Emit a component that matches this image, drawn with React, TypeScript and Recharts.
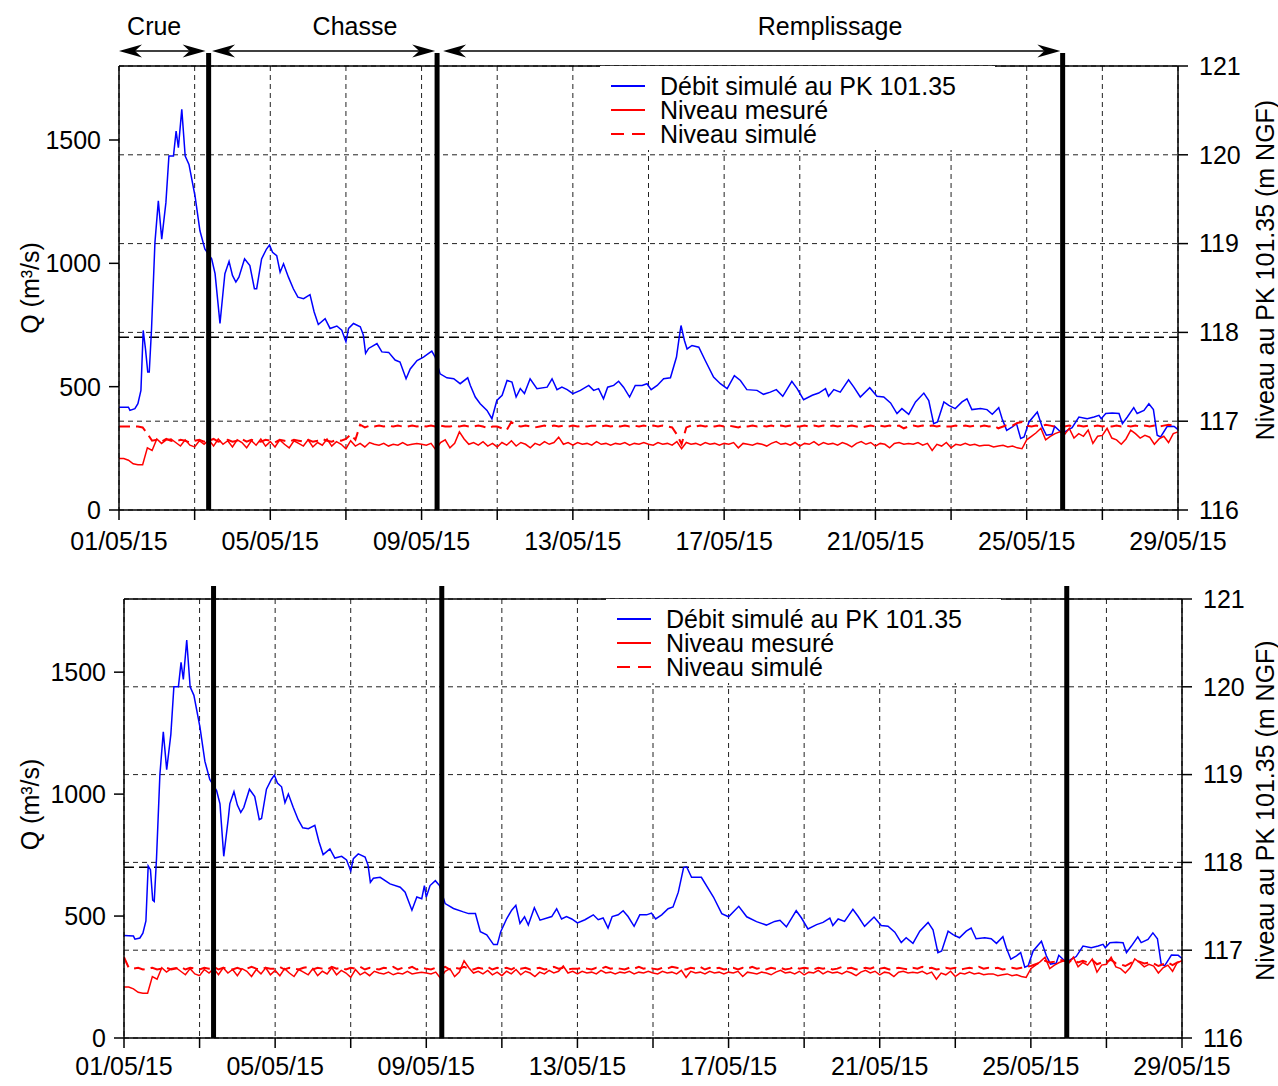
import React from "react";
import {
  CartesianGrid,
  Legend,
  Line,
  LineChart,
  ReferenceLine,
  XAxis,
  YAxis,
} from "recharts";

const FONT = '"Liberation Sans", Arial, Helvetica, sans-serif';

// x axis is in days since 01/05/15 00:00
const tickDays = [0, 2, 4, 6, 8, 10, 12, 14, 16, 18, 20, 22, 24, 26, 28];
const dateLabels = ["01/05/15", "05/05/15", "09/05/15", "13/05/15", "17/05/15", "21/05/15", "25/05/15", "29/05/15"];
const qTicks = [0, 500, 1000, 1500];
const levelTicks = [116, 117, 118, 119, 120, 121];

// phase boundaries (thick vertical lines)
const phaseLimits = [2.37, 8.41, 24.95];
const phases = [
  { name: "Crue", from: 0, to: 2.29, labelAt: 0.93 },
  { name: "Chasse", from: 2.46, to: 8.36, labelAt: 6.24 },
  { name: "Remplissage", from: 8.57, to: 24.89, labelAt: 18.8 },
];
const qThreshold = 700;
const arrowLevel = 121.17;

// simulated discharge [day, m3/s]
const qTop: [number, number][] = [
  [0, 417], [0.25, 417], [0.29, 404], [0.42, 411], [0.5, 431], [0.58, 485], [0.64, 728], [0.7, 653],
  [0.76, 559], [0.8, 559], [0.86, 734], [0.95, 1084], [1.04, 1253], [1.13, 1098], [1.24, 1246], [1.32, 1435],
  [1.44, 1435], [1.51, 1536], [1.57, 1469], [1.66, 1624], [1.75, 1435], [1.85, 1401], [2.01, 1273], [2.14, 1132],
  [2.27, 1058], [2.45, 1018], [2.54, 958], [2.67, 756], [2.76, 897], [2.8, 958], [2.91, 1008], [3.0, 951],
  [3.09, 924], [3.17, 944], [3.32, 1018], [3.46, 991], [3.58, 897], [3.64, 897], [3.77, 1018], [3.9, 1058],
  [3.98, 1074], [4.06, 1045], [4.17, 1031], [4.26, 964], [4.35, 998], [4.48, 944], [4.61, 897], [4.73, 863],
  [4.88, 857], [5.05, 873], [5.16, 803], [5.27, 752], [5.45, 776], [5.58, 736], [5.76, 746], [5.89, 729],
  [6.0, 682], [6.07, 736], [6.2, 756], [6.38, 743], [6.46, 709], [6.52, 635], [6.6, 655], [6.82, 675],
  [6.95, 641], [7.13, 639], [7.3, 608], [7.43, 600], [7.59, 532], [7.7, 572], [7.88, 606], [8.05, 620],
  [8.27, 644], [8.36, 620], [8.49, 552], [8.67, 536], [8.85, 532], [9.02, 512], [9.22, 536], [9.29, 505],
  [9.42, 458], [9.55, 431], [9.73, 404], [9.86, 370], [9.99, 444], [10.13, 465], [10.26, 525], [10.39, 519],
  [10.5, 458], [10.61, 492], [10.72, 472], [10.87, 532], [11.05, 492], [11.32, 498], [11.45, 532], [11.58, 488],
  [11.71, 498], [11.85, 488], [12.0, 472], [12.2, 485], [12.42, 505], [12.55, 485], [12.68, 492], [12.81, 451],
  [12.92, 498], [13.08, 505], [13.21, 522], [13.34, 498], [13.5, 458], [13.65, 505], [13.83, 505], [13.96, 512],
  [14.07, 488], [14.23, 505], [14.4, 532], [14.58, 536], [14.74, 620], [14.8, 687], [14.86, 748], [14.95, 687],
  [15.02, 653], [15.15, 667], [15.33, 660], [15.5, 606], [15.72, 539], [15.9, 512], [16.08, 492], [16.27, 545],
  [16.43, 525], [16.6, 488], [16.87, 485], [17.04, 469], [17.22, 478], [17.38, 488], [17.55, 461], [17.79, 522],
  [17.93, 492], [18.1, 447], [18.33, 465], [18.5, 474], [18.68, 492], [18.76, 461], [18.9, 488], [19.07, 478],
  [19.29, 528], [19.43, 498], [19.6, 458], [19.85, 496], [20.04, 461], [20.22, 458], [20.4, 434], [20.57, 391],
  [20.7, 411], [20.88, 388], [21.06, 438], [21.28, 474], [21.41, 444], [21.54, 350], [21.64, 357], [21.81, 438],
  [21.94, 424], [22.11, 411], [22.29, 438], [22.42, 451], [22.55, 407], [22.78, 411], [22.95, 407], [23.09, 388],
  [23.26, 415], [23.35, 370], [23.47, 323], [23.62, 337], [23.73, 350], [23.84, 290], [23.93, 296], [24.06, 357],
  [24.28, 397], [24.41, 337], [24.52, 303], [24.67, 307], [24.74, 339], [24.85, 323], [24.94, 310], [25.07, 323],
  [25.2, 334], [25.38, 377], [25.6, 370], [25.78, 377], [25.91, 384], [25.97, 370], [26.09, 391], [26.26, 393],
  [26.44, 391], [26.53, 350], [26.66, 377], [26.83, 415], [26.92, 391], [27.1, 404], [27.23, 431], [27.35, 407],
  [27.45, 303], [27.54, 296], [27.72, 340], [27.9, 339], [28.0, 326],
];

const qBottom: [number, number][] = [
  [0, 420], [0.25, 418], [0.29, 405], [0.42, 410], [0.5, 430], [0.58, 480], [0.64, 705], [0.7, 690],
  [0.76, 565], [0.8, 560], [0.86, 735], [0.95, 1080], [1.04, 1255], [1.13, 1100], [1.24, 1245], [1.32, 1440],
  [1.44, 1440], [1.51, 1540], [1.57, 1470], [1.66, 1632], [1.75, 1440], [1.85, 1405], [2.01, 1275], [2.14, 1135],
  [2.27, 1060], [2.45, 1015], [2.54, 960], [2.64, 745], [2.76, 900], [2.8, 960], [2.91, 1010], [3.0, 955],
  [3.09, 925], [3.17, 945], [3.32, 1020], [3.46, 990], [3.58, 895], [3.64, 900], [3.77, 1020], [3.9, 1060],
  [3.98, 1078], [4.06, 1045], [4.17, 1030], [4.26, 965], [4.35, 1000], [4.48, 945], [4.61, 895], [4.73, 862],
  [4.88, 858], [5.05, 872], [5.16, 805], [5.27, 752], [5.45, 775], [5.58, 738], [5.76, 745], [5.89, 730],
  [6.0, 685], [6.07, 735], [6.2, 755], [6.38, 742], [6.46, 708], [6.52, 638], [6.6, 655], [6.78, 659],
  [7.04, 632], [7.31, 618], [7.44, 598], [7.62, 524], [7.75, 578], [7.88, 571], [7.95, 625], [8.0, 578],
  [8.1, 625], [8.24, 645], [8.35, 625], [8.5, 551], [8.72, 531], [8.98, 517], [9.12, 510], [9.3, 510],
  [9.43, 436], [9.6, 423], [9.78, 383], [9.88, 383], [9.97, 436], [10.13, 490], [10.26, 524], [10.37, 544],
  [10.48, 470], [10.6, 497], [10.7, 463], [10.86, 534], [11.01, 483], [11.32, 498], [11.45, 530], [11.58, 488],
  [11.71, 498], [11.85, 488], [12.0, 472], [12.2, 485], [12.42, 505], [12.55, 485], [12.68, 492], [12.81, 451],
  [12.92, 498], [13.08, 505], [13.21, 522], [13.34, 498], [13.5, 458], [13.65, 505], [13.83, 505], [13.96, 512],
  [14.07, 488], [14.23, 505], [14.4, 530], [14.53, 537], [14.67, 598], [14.81, 699], [14.89, 702], [15.02, 659],
  [15.28, 659], [15.6, 578], [15.82, 510], [16.0, 497], [16.27, 540], [16.48, 497], [16.74, 477], [17.0, 463],
  [17.22, 478], [17.36, 483], [17.53, 456], [17.79, 522], [17.93, 492], [18.1, 447], [18.33, 465], [18.5, 474],
  [18.68, 492], [18.76, 461], [18.9, 488], [19.07, 478], [19.29, 528], [19.43, 498], [19.6, 458], [19.85, 496],
  [20.04, 461], [20.22, 458], [20.4, 434], [20.57, 391], [20.7, 411], [20.88, 388], [21.06, 438], [21.28, 474],
  [21.41, 444], [21.54, 350], [21.64, 357], [21.81, 438], [21.94, 424], [22.11, 411], [22.29, 438], [22.42, 451],
  [22.55, 407], [22.78, 411], [22.95, 407], [23.09, 388], [23.26, 415], [23.35, 370], [23.47, 323], [23.62, 337],
  [23.73, 350], [23.84, 290], [23.93, 296], [24.06, 357], [24.28, 397], [24.41, 337], [24.52, 303], [24.67, 307],
  [24.74, 339], [24.85, 323], [24.94, 310], [25.07, 323], [25.2, 334], [25.38, 377], [25.6, 370], [25.78, 377],
  [25.91, 384], [25.97, 370], [26.09, 391], [26.26, 393], [26.44, 391], [26.53, 350], [26.66, 377], [26.83, 415],
  [26.92, 391], [27.1, 404], [27.23, 431], [27.35, 407], [27.45, 303], [27.54, 296], [27.72, 340], [27.9, 339],
  [28.0, 326],
];

// water levels, one value every 3 hours (8 per day)
const levelMeasured = [
  116.58, 116.58, 116.56, 116.52, 116.51, 116.51, 116.70, 116.67,
  116.80, 116.75, 116.79, 116.80, 116.76, 116.72, 116.79, 116.73,
  116.71, 116.78, 116.74, 116.79, 116.72, 116.80, 116.74, 116.78,
  116.71, 116.79, 116.76, 116.70, 116.78, 116.73, 116.80, 116.72,
  116.77, 116.71, 116.79, 116.74, 116.70, 116.78, 116.75, 116.72,
  116.79, 116.71, 116.76, 116.73, 116.80, 116.72, 116.77, 116.74,
  116.69, 116.78, 116.72, 116.75, 116.71, 116.76, 116.74, 116.73,
  116.75, 116.72, 116.74, 116.73, 116.76, 116.73, 116.74, 116.75,
  116.74, 116.73, 116.75, 116.68, 116.76, 116.79, 116.70, 116.75,
  116.88, 116.80, 116.74, 116.76, 116.73, 116.77, 116.72, 116.75,
  116.71, 116.76, 116.73, 116.78, 116.72, 116.76, 116.74, 116.70,
  116.75, 116.73, 116.77, 116.74, 116.76, 116.82, 116.74, 116.76,
  116.73, 116.76, 116.74, 116.75, 116.73, 116.77, 116.74, 116.75,
  116.73, 116.75, 116.74, 116.76, 116.73, 116.75, 116.74, 116.76,
  116.74, 116.73, 116.76, 116.74, 116.75, 116.73, 116.77, 116.69,
  116.76, 116.74, 116.75, 116.73, 116.76, 116.74, 116.75, 116.73,
  116.75, 116.74, 116.76, 116.70, 116.75, 116.74, 116.73, 116.75,
  116.74, 116.72, 116.75, 116.77, 116.74, 116.75, 116.73, 116.76,
  116.72, 116.75, 116.74, 116.77, 116.73, 116.76, 116.74, 116.75,
  116.73, 116.76, 116.74, 116.71, 116.75, 116.77, 116.74, 116.76,
  116.72, 116.75, 116.74, 116.70, 116.75, 116.76, 116.74, 116.75,
  116.74, 116.76, 116.73, 116.75, 116.67, 116.74, 116.72, 116.76,
  116.70, 116.74, 116.73, 116.75, 116.73, 116.74, 116.72, 116.73,
  116.73, 116.71, 116.72, 116.73, 116.71, 116.72, 116.70, 116.69,
  116.79, 116.83, 116.87, 116.92, 116.79, 116.83, 116.86, 116.88,
  116.85, 116.92, 116.81, 116.86, 116.83, 116.90, 116.75, 116.83,
  116.84, 116.92, 116.81, 116.79, 116.74, 116.80, 116.90, 116.86,
  116.81, 116.84, 116.82, 116.74, 116.80, 116.83, 116.76, 116.86,
  116.88,
];

const levelSimTop = [
  116.94, 116.94, 116.94, 116.94, 116.94, 116.93, 116.86, 116.78,
  116.79, 116.77, 116.80, 116.78, 116.77, 116.79, 116.78, 116.76,
  116.78, 116.79, 116.77, 116.78, 116.80, 116.77, 116.78, 116.79,
  116.77, 116.78, 116.80, 116.77, 116.79, 116.78, 116.77, 116.79,
  116.78, 116.76, 116.79, 116.78, 116.77, 116.79, 116.78, 116.77,
  116.79, 116.77, 116.78, 116.80, 116.78, 116.77, 116.79, 116.78,
  116.80, 116.85, 116.79, 116.96, 116.93, 116.95, 116.94, 116.95,
  116.94, 116.95, 116.94, 116.95, 116.94, 116.94, 116.95, 116.94,
  116.95, 116.94, 116.95, 116.94, 116.95, 116.94, 116.94, 116.95,
  116.94, 116.95, 116.94, 116.94, 116.95, 116.94, 116.92, 116.94,
  116.94, 116.92, 116.90, 116.99, 116.95, 116.94, 116.95, 116.94,
  116.93, 116.94, 116.95, 116.94, 116.95, 116.94, 116.95, 116.94,
  116.95, 116.94, 116.95, 116.94, 116.95, 116.95, 116.94, 116.95,
  116.94, 116.95, 116.94, 116.95, 116.94, 116.95, 116.94, 116.95,
  116.94, 116.95, 116.94, 116.95, 116.94, 116.93, 116.85, 116.74,
  116.93, 116.95, 116.94, 116.95, 116.94, 116.95, 116.94, 116.95,
  116.94, 116.95, 116.94, 116.93, 116.95, 116.94, 116.95, 116.94,
  116.95, 116.94, 116.95, 116.94, 116.95, 116.94, 116.95, 116.94,
  116.94, 116.95, 116.94, 116.95, 116.94, 116.95, 116.94, 116.95,
  116.94, 116.95, 116.94, 116.95, 116.94, 116.93, 116.94, 116.95,
  116.94, 116.95, 116.94, 116.95, 116.94, 116.95, 116.92, 116.94,
  116.95, 116.94, 116.95, 116.94, 116.95, 116.94, 116.95, 116.94,
  116.94, 116.95, 116.94, 116.95, 116.94, 116.95, 116.94, 116.95,
  116.94, 116.95, 116.92, 116.94, 116.96, 116.95, 116.98, 116.99,
  116.95, 116.94, 116.95, 116.94, 116.96, 116.95, 116.94, 116.95,
  116.94, 116.95, 116.94, 116.95, 116.94, 116.95, 116.94, 116.95,
  116.94, 116.95, 116.94, 116.95, 116.94, 116.95, 116.94, 116.95,
  116.94, 116.95, 116.94, 116.95, 116.94, 116.95, 116.96, 116.95,
  116.94,
];

const levelSimBottom = [
  116.92, 116.80, 116.79, 116.80, 116.78, 116.79, 116.80, 116.78,
  116.79, 116.80, 116.78, 116.79, 116.81, 116.78, 116.80, 116.79,
  116.78, 116.80, 116.79, 116.81, 116.78, 116.80, 116.79, 116.78,
  116.80, 116.78, 116.79, 116.81, 116.79, 116.78, 116.80, 116.79,
  116.79, 116.81, 116.78, 116.80, 116.79, 116.78, 116.80, 116.81,
  116.78, 116.80, 116.79, 116.78, 116.81, 116.79, 116.80, 116.78,
  116.80, 116.79, 116.81, 116.78, 116.80, 116.79, 116.78, 116.80,
  116.79, 116.81, 116.78, 116.80, 116.79, 116.81, 116.78, 116.80,
  116.79, 116.78, 116.80, 116.79, 116.81, 116.78, 116.80, 116.79,
  116.81, 116.79, 116.78, 116.80, 116.79, 116.81, 116.78, 116.80,
  116.79, 116.80, 116.78, 116.81, 116.79, 116.80, 116.78, 116.79,
  116.80, 116.78, 116.79, 116.81, 116.79, 116.80, 116.78, 116.79,
  116.79, 116.80, 116.79, 116.78, 116.80, 116.79, 116.81, 116.79,
  116.80, 116.79, 116.78, 116.80, 116.79, 116.81, 116.79, 116.80,
  116.79, 116.78, 116.80, 116.79, 116.81, 116.80, 116.79, 116.78,
  116.80, 116.79, 116.81, 116.78, 116.80, 116.79, 116.80, 116.78,
  116.79, 116.80, 116.78, 116.80, 116.79, 116.81, 116.79, 116.80,
  116.78, 116.80, 116.79, 116.80, 116.78, 116.79, 116.81, 116.79,
  116.80, 116.79, 116.78, 116.80, 116.79, 116.80, 116.78, 116.79,
  116.81, 116.79, 116.80, 116.78, 116.79, 116.80, 116.79, 116.81,
  116.79, 116.80, 116.78, 116.79, 116.80, 116.79, 116.78, 116.80,
  116.79, 116.81, 116.79, 116.80, 116.78, 116.79, 116.80, 116.79,
  116.80, 116.78, 116.79, 116.80, 116.79, 116.81, 116.79, 116.80,
  116.79, 116.80, 116.78, 116.79, 116.80, 116.79, 116.80, 116.81,
  116.82, 116.84, 116.86, 116.88, 116.86, 116.87, 116.89, 116.88,
  116.87, 116.89, 116.86, 116.88, 116.86, 116.89, 116.84, 116.86,
  116.87, 116.89, 116.85, 116.84, 116.82, 116.85, 116.88, 116.87,
  116.85, 116.86, 116.85, 116.82, 116.84, 116.86, 116.83, 116.86,
  116.87,
];

const tickStyle = { fill: "#000", fontSize: 25, fontFamily: FONT };
const axisLine = { stroke: "#000", strokeWidth: 1.5 };

const formatDay = (v: number) => (v % 4 === 0 ? dateLabels[v / 4] : "");

const verticalLabel = (x: number, shift: number) => (props: any) => {
  const vb = props.viewBox || { y: 0, height: 0 };
  const y = vb.y + vb.height / 2 + shift;
  return (
    <text
      x={x}
      y={y}
      transform={`rotate(-90 ${x} ${y})`}
      textAnchor="middle"
      dominantBaseline="central"
      fill="#000"
      fontSize={25}
      fontFamily={FONT}
    >
      {props.value}
    </text>
  );
};

const thickLine = (ext: number) => (p: any) => {
  const y0 = Math.min(p.y1, p.y2) - ext;
  const y1 = Math.max(p.y1, p.y2);
  return <line x1={p.x1} x2={p.x2} y1={y0} y2={y1} stroke="#000" strokeWidth={5} />;
};

const phaseArrow = (phase: (typeof phases)[number]) => (p: any) => {
  const xl = Math.min(p.x1, p.x2);
  const xr = Math.max(p.x1, p.x2);
  const y = p.y1;
  const head = 23;
  const half = 6.5;
  const notch = 16;
  const lx = xl + ((xr - xl) * (phase.labelAt - phase.from)) / (phase.to - phase.from);
  return (
    <g>
      <line x1={xl + notch} x2={xr - notch} y1={y} y2={y} stroke="#000" strokeWidth={1.5} />
      <polygon points={`${xl},${y} ${xl + head},${y - half} ${xl + notch},${y} ${xl + head},${y + half}`} fill="#000" />
      <polygon points={`${xr},${y} ${xr - head},${y - half} ${xr - notch},${y} ${xr - head},${y + half}`} fill="#000" />
      <text x={lx} y={y - 16} textAnchor="middle" fill="#000" fontSize={25} fontFamily={FONT}>
        {phase.name}
      </text>
    </g>
  );
};

const renderLegend = (props: any) => (
  <div
    style={{
      fontFamily: FONT,
      fontSize: 25,
      color: "#000",
      background: "#fff",
      width: 395,
      height: 84,
      boxSizing: "border-box",
      padding: "8px 0 0 11px",
    }}
  >
    {(props.payload || []).map((e: any) => (
      <div key={e.value} style={{ display: "flex", alignItems: "center", height: 24 }}>
        <svg width={34} height={10} style={{ flex: "none" }}>
          <line
            x1={0}
            y1={5}
            x2={34}
            y2={5}
            stroke={e.color}
            strokeWidth={2}
            strokeDasharray={e.payload && e.payload.strokeDasharray ? "13 8" : undefined}
          />
        </svg>
        <span style={{ marginLeft: 15, lineHeight: "24px", whiteSpace: "nowrap" }}>{e.value}</span>
      </div>
    ))}
  </div>
);

type PanelProps = {
  q: [number, number][];
  sim: number[];
  top: number;
  height: number;
  margin: { top: number; right: number; bottom: number; left: number };
  rightWidth: number;
  xTickMargin: number;
  legendLeft: number;
  legendTop: number;
  leftShift: number;
  rightShift: number;
  showPhases?: boolean;
};

function Panel(p: PanelProps) {
  const qData = p.q.map(([t, v]) => ({ t, v }));
  const measData = levelMeasured.map((v, i) => ({ t: i / 8, v }));
  const simData = p.sim.map((v, i) => ({ t: i / 8, v }));
  return (
    <div style={{ position: "absolute", left: 0, top: p.top }}>
      <LineChart width={1278} height={p.height} margin={p.margin}>
        <CartesianGrid yAxisId="right" stroke="#222" strokeDasharray="5 4" />
        <XAxis
          type="number"
          dataKey="t"
          domain={[0, 28]}
          ticks={tickDays}
          interval={0}
          tickFormatter={formatDay}
          tick={tickStyle}
          tickSize={10}
          tickMargin={p.xTickMargin}
          height={45}
          axisLine={axisLine}
          tickLine={axisLine}
        />
        <YAxis
          yAxisId="left"
          domain={[0, 1800]}
          ticks={qTicks}
          interval={0}
          width={90}
          tickSize={10}
          tickMargin={8}
          tick={tickStyle}
          axisLine={axisLine}
          tickLine={axisLine}
          label={{ value: "Q (m³/s)", content: verticalLabel(30, p.leftShift) }}
        />
        <YAxis
          yAxisId="right"
          orientation="right"
          domain={[116, 121]}
          ticks={levelTicks}
          interval={0}
          width={p.rightWidth}
          tickSize={10}
          tickMargin={11}
          tick={tickStyle}
          axisLine={axisLine}
          tickLine={axisLine}
          label={{ value: "Niveau au PK 101.35 (m NGF)", content: verticalLabel(1265, p.rightShift) }}
        />
        <ReferenceLine yAxisId="right" y={121} stroke="#000" strokeWidth={1.5} />
        <ReferenceLine yAxisId="left" y={qThreshold} stroke="#000" strokeWidth={1.5} strokeDasharray="10 5" />
        <Legend
          layout="vertical"
          align="center"
          verticalAlign="middle"
          content={renderLegend}
          wrapperStyle={{ left: p.legendLeft, top: p.legendTop, width: "auto", height: "auto" }}
        />
        <Line
          yAxisId="left"
          data={qData}
          dataKey="v"
          name="Débit simulé au PK 101.35"
          stroke="#0000ff"
          strokeWidth={1.5}
          dot={false}
          isAnimationActive={false}
        />
        <Line
          yAxisId="right"
          data={measData}
          dataKey="v"
          name="Niveau mesuré"
          stroke="#ff0000"
          strokeWidth={1.5}
          dot={false}
          isAnimationActive={false}
        />
        <Line
          yAxisId="right"
          data={simData}
          dataKey="v"
          name="Niveau simulé"
          stroke="#ff0000"
          strokeWidth={2}
          strokeDasharray="11 6"
          dot={false}
          isAnimationActive={false}
        />
        {phaseLimits.map((d) => (
          <ReferenceLine key={d} yAxisId="left" x={d} shape={thickLine(13)} />
        ))}
        {p.showPhases &&
          phases.map((ph) => (
            <ReferenceLine
              key={ph.name}
              yAxisId="right"
              ifOverflow="visible"
              segment={[
                { x: ph.from, y: arrowLevel },
                { x: ph.to, y: arrowLevel },
              ]}
              shape={phaseArrow(ph)}
            />
          ))}
      </LineChart>
    </div>
  );
}

export default function App() {
  return (
    <div style={{ position: "absolute", left: 0, top: 0, width: 1278, height: 1086, background: "#fff" }}>
      <Panel
        q={qTop}
        sim={levelSimTop}
        top={0}
        height={560}
        margin={{ top: 66, right: 0, bottom: 5, left: 29 }}
        rightWidth={100}
        xTickMargin={12}
        legendLeft={600}
        legendTop={66}
        leftShift={0}
        rightShift={-18}
        showPhases
      />
      <Panel
        q={qBottom}
        sim={levelSimBottom}
        top={540}
        height={546}
        margin={{ top: 59, right: 0, bottom: 3, left: 34 }}
        rightWidth={96}
        xTickMargin={9}
        legendLeft={606}
        legendTop={59}
        leftShift={-14}
        rightShift={-8}
      />
    </div>
  );
}
